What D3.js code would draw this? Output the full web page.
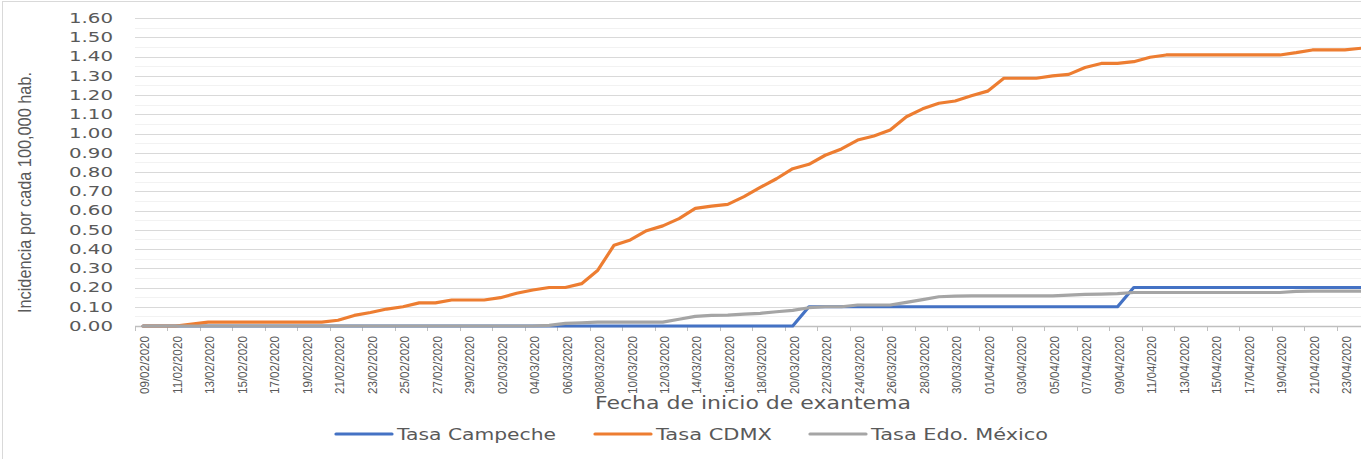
<!DOCTYPE html>
<html>
<head>
<meta charset="utf-8">
<script src="https://cdn.jsdelivr.net/npm/d3@7"></script>
<style>
  html, body { margin: 0; padding: 0; background: #fff; overflow: hidden; }
  svg { display: block; }
</style>
</head>
<body>
<script>
const categories = [
  "09/02/2020","10/02/2020","11/02/2020","12/02/2020","13/02/2020","14/02/2020","15/02/2020","16/02/2020","17/02/2020","18/02/2020",
  "19/02/2020","20/02/2020","21/02/2020","22/02/2020","23/02/2020","24/02/2020","25/02/2020","26/02/2020","27/02/2020","28/02/2020",
  "29/02/2020","01/03/2020","02/03/2020","03/03/2020","04/03/2020","05/03/2020","06/03/2020","07/03/2020","08/03/2020","09/03/2020",
  "10/03/2020","11/03/2020","12/03/2020","13/03/2020","14/03/2020","15/03/2020","16/03/2020","17/03/2020","18/03/2020","19/03/2020",
  "20/03/2020","21/03/2020","22/03/2020","23/03/2020","24/03/2020","25/03/2020","26/03/2020","27/03/2020","28/03/2020","29/03/2020",
  "30/03/2020","31/03/2020","01/04/2020","02/04/2020","03/04/2020","04/04/2020","05/04/2020","06/04/2020","07/04/2020","08/04/2020",
  "09/04/2020","10/04/2020","11/04/2020","12/04/2020","13/04/2020","14/04/2020","15/04/2020","16/04/2020","17/04/2020","18/04/2020",
  "19/04/2020","20/04/2020","21/04/2020","22/04/2020","23/04/2020","24/04/2020"
];

const tasaCampeche = [
  0,0,0,0,0,0,0,0,0,0,
  0,0,0,0,0,0,0,0,0,0,
  0,0,0,0,0,0,0,0,0,0,
  0,0,0,0,0,0,0,0,0,0,
  0,0.1,0.1,0.1,0.1,0.1,0.1,0.1,0.1,0.1,
  0.1,0.1,0.1,0.1,0.1,0.1,0.1,0.1,0.1,0.1,
  0.1,0.2,0.2,0.2,0.2,0.2,0.2,0.2,0.2,0.2,
  0.2,0.2,0.2,0.2,0.2,0.2
];

const tasaCDMX = [
  0,0,0,0.01,0.02,0.02,0.02,0.02,0.02,0.02,
  0.02,0.02,0.03,0.055,0.07,0.088,0.10,0.12,0.12,0.135,
  0.135,0.135,0.147,0.17,0.187,0.20,0.20,0.22,0.29,0.42,
  0.447,0.495,0.52,0.558,0.611,0.623,0.632,0.672,0.72,0.765,
  0.817,0.84,0.887,0.92,0.966,0.987,1.018,1.087,1.128,1.157,
  1.169,1.196,1.22,1.287,1.287,1.287,1.299,1.307,1.343,1.364,
  1.364,1.373,1.396,1.408,1.408,1.408,1.408,1.408,1.408,1.408,
  1.408,1.42,1.434,1.434,1.434,1.443
];

const tasaEdoMexico = [
  0,0,0,0,0,0,0,0,0,0,
  0,0,0,0,0,0,0,0,0,0,
  0,0,0,0,0,0.003,0.014,0.017,0.02,0.02,
  0.02,0.02,0.02,0.035,0.05,0.055,0.057,0.062,0.066,0.074,
  0.081,0.095,0.1,0.1,0.109,0.109,0.109,0.123,0.137,0.152,
  0.155,0.157,0.157,0.157,0.157,0.157,0.157,0.16,0.164,0.166,
  0.168,0.174,0.174,0.174,0.174,0.174,0.174,0.174,0.174,0.174,
  0.174,0.18,0.181,0.181,0.181,0.181
];

const seriesNames = ["Tasa Campeche", "Tasa CDMX", "Tasa Edo. México"];
const seriesColors = ["#4472C4", "#ED7D31", "#A5A5A5"];
const yTicks = [0,0.1,0.2,0.3,0.4,0.5,0.6,0.7,0.8,0.9,1.0,1.1,1.2,1.3,1.4,1.5,1.6];
const yMinorTicks = [0.05,0.15,0.25,0.35,0.45,0.55,0.65,0.75,0.85,0.95,1.05,1.15,1.25,1.35,1.45,1.55];
const yTitle = "Incidencia por cada 100,000 hab.";
const xTitle = "Fecha de inicio de exantema";

const W = 1361, H = 459;
const plotLeft = 135, plotTop = 18, plotBottom = 326;
const bandW = 16.24;
const plotRight = plotLeft + bandW * categories.length;

const svg = d3.select("body").append("svg").attr("width", W).attr("height", H);
svg.append("rect").attr("width", W).attr("height", H).attr("fill", "#fff");
// chart border (cropped on right/bottom)
svg.append("rect").attr("x", 2.5).attr("y", 1.5).attr("width", W + 10).attr("height", H + 10)
  .attr("fill", "none").attr("stroke", "#d9d9d9").attr("stroke-width", 1);

const x = d3.scaleBand().domain(categories).range([plotLeft, plotRight]).padding(0);
const y = d3.scaleLinear().domain([0, 1.6]).range([plotBottom, plotTop]);

// minor gridlines
svg.append("g").selectAll("line").data(yMinorTicks).join("line")
  .attr("x1", plotLeft).attr("x2", plotRight)
  .attr("y1", d => Math.round(y(d)) + 0.5).attr("y2", d => Math.round(y(d)) + 0.5)
  .attr("stroke", "#f2f2f2").attr("stroke-width", 1);
// major gridlines
svg.append("g").selectAll("line").data(yTicks.slice(1)).join("line")
  .attr("x1", plotLeft).attr("x2", plotRight)
  .attr("y1", d => Math.round(y(d)) + 0.5).attr("y2", d => Math.round(y(d)) + 0.5)
  .attr("stroke", "#d9d9d9").attr("stroke-width", 1);

// y axis labels
const yAxis = d3.axisLeft(y).tickValues(yTicks).tickFormat(d3.format(".2f")).tickSize(0).tickPadding(22);
const gy = svg.append("g").attr("transform", `translate(${plotLeft},0)`).call(yAxis);
gy.select(".domain").remove();
gy.selectAll("text")
  .attr("font-family", "DejaVu Sans, Verdana, sans-serif")
  .attr("font-size", 14)
  .attr("fill", "#595959")
  .attr("textLength", 44)
  .attr("lengthAdjust", "spacingAndGlyphs");

// x axis line
svg.append("line").attr("x1", plotLeft).attr("x2", plotRight)
  .attr("y1", plotBottom + 0.5).attr("y2", plotBottom + 0.5)
  .attr("stroke", "#bfbfbf").attr("stroke-width", 1.5);

const evenCats = categories.filter((d, i) => i % 2 === 0);
// tick marks at category boundaries every 2 categories
svg.append("g").selectAll("line").data(evenCats).join("line")
  .attr("x1", d => Math.round(x(d)) + 0.5).attr("x2", d => Math.round(x(d)) + 0.5)
  .attr("y1", plotBottom).attr("y2", plotBottom + 5)
  .attr("stroke", "#bfbfbf").attr("stroke-width", 1);

// x labels
svg.append("g").selectAll("text").data(evenCats).join("text")
  .attr("transform", d => `translate(${x(d) + x.bandwidth() / 2 + 2},${plotBottom + 10}) rotate(-90)`)
  .attr("text-anchor", "end")
  .attr("dy", "0.35em")
  .attr("font-family", "Liberation Sans Narrow, Liberation Sans, Arial, sans-serif")
  .attr("font-size", 12)
  .attr("fill", "#595959")
  .attr("textLength", 58)
  .attr("lengthAdjust", "spacingAndGlyphs")
  .text(d => d);

// y title
svg.append("text")
  .attr("transform", `translate(31,${(72 + 313) / 2}) rotate(-90)`)
  .attr("text-anchor", "middle")
  .attr("font-family", "Liberation Sans Narrow, Liberation Sans, sans-serif")
  .attr("font-size", 19)
  .attr("fill", "#595959")
  .attr("textLength", 241)
  .attr("lengthAdjust", "spacingAndGlyphs")
  .text(yTitle);

// x title
svg.append("text")
  .attr("x", 753).attr("y", 409)
  .attr("text-anchor", "middle")
  .attr("font-family", "DejaVu Sans, Verdana, sans-serif")
  .attr("font-size", 17)
  .attr("fill", "#595959")
  .attr("textLength", 316)
  .attr("lengthAdjust", "spacingAndGlyphs")
  .text(xTitle);

// lines
const allSeries = [tasaCampeche, tasaCDMX, tasaEdoMexico];
const line = d3.line()
  .x((d, i) => x(categories[i]) + x.bandwidth() / 2)
  .y(d => y(d));
const gLines = svg.append("g");
allSeries.forEach((vals, k) => {
  gLines.append("path")
    .datum(vals)
    .attr("d", line)
    .attr("fill", "none")
    .attr("stroke", seriesColors[k])
    .attr("stroke-width", 3.2)
    .attr("stroke-linejoin", "round")
    .attr("stroke-linecap", "round");
});

// legend
const legendItems = [
  { x1: 336, x2: 392, tx: 397, tl: 159 },
  { x1: 595, x2: 651, tx: 656, tl: 116 },
  { x1: 810, x2: 866, tx: 871, tl: 177 }
];
const gLeg = svg.append("g");
legendItems.forEach((it, k) => {
  gLeg.append("line").attr("x1", it.x1).attr("x2", it.x2).attr("y1", 434).attr("y2", 434)
    .attr("stroke", seriesColors[k]).attr("stroke-width", 3.2).attr("stroke-linecap", "round");
  gLeg.append("text").attr("x", it.tx).attr("y", 440)
    .attr("font-family", "DejaVu Sans, Verdana, sans-serif")
    .attr("font-size", 16)
    .attr("fill", "#595959")
    .attr("textLength", it.tl)
    .attr("lengthAdjust", "spacingAndGlyphs")
    .text(seriesNames[k]);
});
</script>
</body>
</html>
